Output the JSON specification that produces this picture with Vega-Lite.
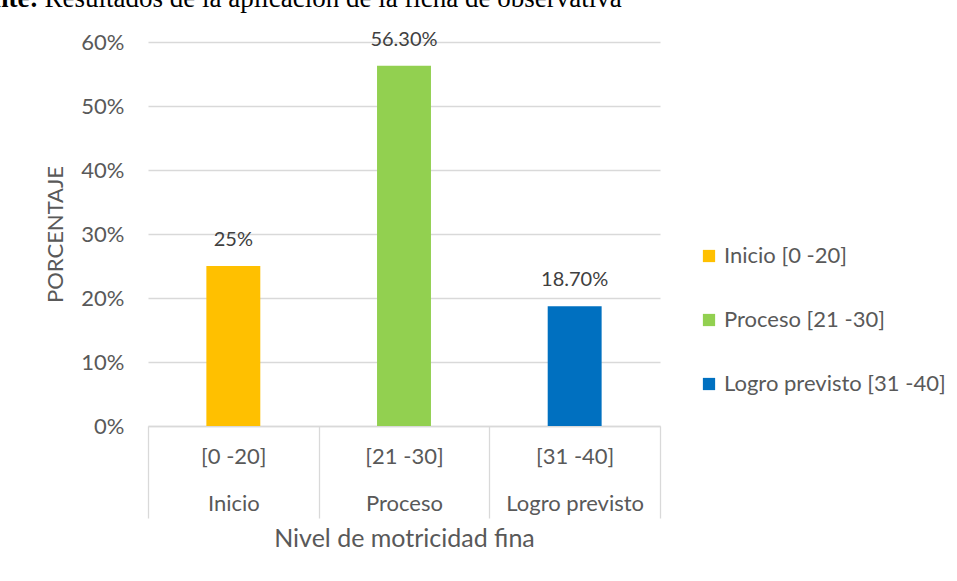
{
  "$schema": "https://vega.github.io/schema/vega-lite/v6.json",
  "width": 512,
  "height": 384,
  "autosize": {"type": "none"},
  "padding": {"left": 148, "top": 42, "right": 297, "bottom": 155},
  "background": "white",
  "title": {
    "text": "Fuente:",
    "subtitle": "\u200b\u00a0\u00a0\u00a0\u00a0\u00a0\u00a0\u00a0\u00a0\u00a0\u00a0\u00a0\u00a0\u00a0\u00a0Resultados de la aplicación de la ficha de observativa",
    "anchor": "start",
    "frame": "group",
    "dx": -198,
    "offset": 17,
    "font": "Liberation Serif",
    "fontSize": 27,
    "fontWeight": "bold",
    "color": "black",
    "subtitleFont": "Liberation Serif",
    "subtitleFontSize": 27,
    "subtitleColor": "black",
    "subtitlePadding": -27
  },
  "data": {
    "values": [
      {"categoria": "[0 -20]|Inicio", "leyenda": "Inicio [0 -20]", "porcentaje": 0.25, "etiqueta": "25%"},
      {"categoria": "[21 -30]|Proceso", "leyenda": "Proceso [21 -30]", "porcentaje": 0.563, "etiqueta": "56.30%"},
      {"categoria": "[31 -40]|Logro previsto", "leyenda": "Logro previsto [31 -40]", "porcentaje": 0.187, "etiqueta": "18.70%"}
    ]
  },
  "encoding": {
    "x": {
      "field": "categoria",
      "type": "nominal",
      "sort": null,
      "scale": {"paddingInner": 0, "paddingOuter": 0},
      "axis": {
        "title": "Nivel de motricidad fina",
        "labelAngle": 0,
        "labelExpr": "split(datum.label, '|')",
        "labelLineHeight": 47,
        "labelPadding": -72,
        "labelBaseline": "top",
        "labelFont": "Lato",
        "labelFontSize": 22,
        "labelColor": "#595959",
        "tickBand": "extent",
        "tickSize": 92,
        "tickColor": "#d9d9d9",
        "tickWidth": 1.3,
        "domainColor": "#d9d9d9",
        "domainWidth": 1.3,
        "titleFont": "Lato",
        "titleFontSize": 25,
        "titleFontWeight": "normal",
        "titleColor": "#595959",
        "titlePadding": 8
      }
    },
    "y": {
      "field": "porcentaje",
      "type": "quantitative",
      "scale": {"domain": [0, 0.6]},
      "axis": {
        "title": "PORCENTAJE",
        "format": ".0%",
        "values": [0, 0.1, 0.2, 0.3, 0.4, 0.5, 0.6],
        "domain": false,
        "ticks": false,
        "labelPadding": 24,
        "labelFont": "Lato",
        "labelFontSize": 22,
        "labelColor": "#595959",
        "gridColor": "#d9d9d9",
        "gridWidth": 1.3,
        "titleFont": "Lato",
        "titleFontSize": 22,
        "titleFontWeight": "normal",
        "titleColor": "#595959",
        "titlePadding": 13
      }
    }
  },
  "layer": [
    {
      "mark": {"type": "bar", "width": {"band": 0.316}},
      "encoding": {
        "color": {
          "field": "leyenda",
          "type": "nominal",
          "sort": null,
          "scale": {
            "domain": ["Inicio [0 -20]", "Proceso [21 -30]", "Logro previsto [31 -40]"],
            "range": ["#FFC000", "#92D050", "#0070C0"]
          },
          "legend": {
            "title": null,
            "orient": "none",
            "legendX": 550,
            "legendY": 203,
            "symbolType": "square",
            "symbolSize": 150,
            "symbolStrokeWidth": 0,
            "labelFont": "Lato",
            "labelFontSize": 22,
            "labelColor": "#595959",
            "labelOffset": 4,
            "labelLimit": 400,
            "rowPadding": 42
          }
        }
      }
    },
    {
      "mark": {"type": "text", "dy": -26, "font": "Lato", "fontSize": 20, "color": "#404040"},
      "encoding": {"text": {"field": "etiqueta"}}
    }
  ],
  "config": {"view": {"stroke": null}}
}
